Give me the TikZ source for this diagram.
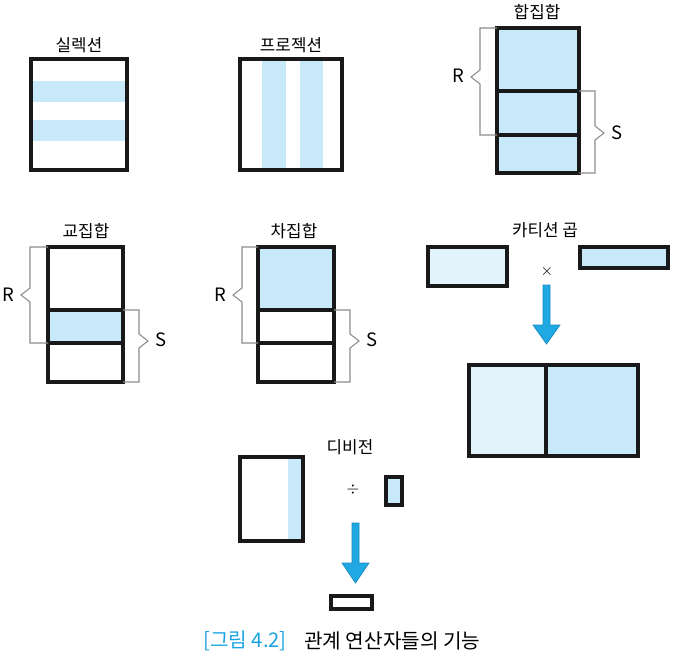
\documentclass[tikz,border=0pt]{standalone}
\usepackage{fontspec}
\setmainfont{Noto Sans CJK KR}
\definecolor{lblue}{HTML}{C8E9FA}
\definecolor{vlblue}{HTML}{E2F3FC}
\definecolor{arrblue}{HTML}{1FA8E2}
\definecolor{arredge}{HTML}{1A8AC0}
\definecolor{capblue}{HTML}{1AA3E0}

\tikzset{
  tbl/.style = {line width=2.1pt, draw=black!90},
  brk/.style = {draw=black!45, line width=0.6pt},
  ttl/.style = {font=\fontsize{9.6}{11}\selectfont},
  lbl/.style = {font=\fontsize{10.5}{12}\selectfont},
  bigarrow/.style = {fill=arrblue, draw=arredge, line width=0.4pt}
}

\begin{document}
\begin{tikzpicture}[x=0.02cm, y=-0.02cm]
				            \useasboundingbox (0,0) rectangle (675,658);
				            % selection
				            \fill [lblue](31,81)rectangle(127,102);
				            \fill [lblue](31,120)rectangle(127,141);
				            \draw [tbl](31,59)rectangle(127,170);
				            \node [ttl] (selttl) at (79,45){실렉션};
				            % projection
				            \fill [lblue](262,59)rectangle(286,170);
				            \fill [lblue](300,59)rectangle(323,170);
				            \draw [tbl](240,59)rectangle(342,170);
				            \node [ttl] (projttl) at (291,45){프로젝션};
				            % union
				            \fill [lblue](497,28)rectangle(579,173);
				            \draw [tbl](497,28)rectangle(579,173);
				            \draw [tbl](497,91)--(579,91);
				            \draw [tbl](497,135)--(579,135);
				            \draw [brk](497,28)--(480,28)--(480,70)--(471,77)--(480,84)--(480,135)--(497,135);
				            \draw [brk](579,91)--(595,91)--(595,126)--(604,133)--(595,140)--(595,173)--(579,173);
				            \node [lbl] (unR) at (458,76){R};
				            \node [lbl] (unS) at (617,133){S};
				            \node [ttl] (unttl) at (537,12){합집합};
				            % intersection
				            \fill [lblue](48,310)rectangle(123,343);
				            \draw [tbl](48,247)rectangle(123,382);
				            \draw [tbl](48,310)--(123,310);
				            \draw [tbl](48,343)--(123,343);
				            \draw [brk](48,247)--(30,247)--(30,288)--(21,295)--(30,302)--(30,343)--(48,343);
				            \draw [brk](123,310)--(139,310)--(139,334)--(148,341)--(139,348)--(139,382)--(123,382);
				            \node [lbl] (isR) at (8,295){R};
				            \node [lbl] (isS) at (161,340){S};
				            \node [ttl] (isttl) at (86,231){교집합};
				            % difference
				            \fill [lblue](258,247)rectangle(334,310);
				            \draw [tbl](258,247)rectangle(334,382);
				            \draw [tbl](258,310)--(334,310);
				            \draw [tbl](258,343)--(334,343);
				            \draw [brk](258,247)--(242,247)--(242,288)--(233,295)--(242,302)--(242,343)--(258,343);
				            \draw [brk](334,310)--(350,310)--(350,334)--(359,341)--(350,348)--(350,382)--(334,382);
				            \node [lbl] (dfR) at (220,295){R};
				            \node [lbl] (dfS) at (372,340){S};
				            \node [ttl] (dfttl) at (294,231){차집합};
				            % cartesian product
				            \draw [tbl, fill = vlblue](428,247)rectangle(507,286);
				            \draw [tbl, fill = lblue](580,247)rectangle(668,268);
				            \node (times) at (547,272){\small$\times$};
				            \draw [bigarrow](543,285)--(550,285)--(550,325)--(560,325)--(546.5,344)--(533,325)--(543,325)--cycle;
				            \fill [vlblue](469,365)rectangle(546,456);
				            \fill [lblue](546,365)rectangle(638,456);
				            \draw [tbl](469,365)rectangle(638,456);
				            \draw [tbl](546,365)--(546,456);
				            \node [ttl] (cpttl) at (545,230){카티션 곱};
				            % division
				            \fill [lblue](288,457)rectangle(303,541);
				            \draw [tbl](240,457)rectangle(303,541);
				            \node (divide) at (353,490){\small$\div$};
				            \draw [tbl, fill = lblue](386,477)rectangle(402,505);
				            \draw [bigarrow](352,523)--(359,523)--(359,563)--(369,563)--(355.5,583)--(342,563)--(352,563)--cycle;
				            \draw [tbl](331,596)rectangle(372,609);
				            \node [ttl] (dvttl) at (350,447){디비전};
				            % caption
				            \node [anchor = east, text = capblue, font = \fontsize{11.5}{13}\selectfont] (capnum) at (293,641){[그림 4.2]};
				            \node [anchor = west, font = \fontsize{11.5}{13}\selectfont] (captxt) at (298,641){관계 연산자들의 기능};
			            \end{tikzpicture}
\end{document}
